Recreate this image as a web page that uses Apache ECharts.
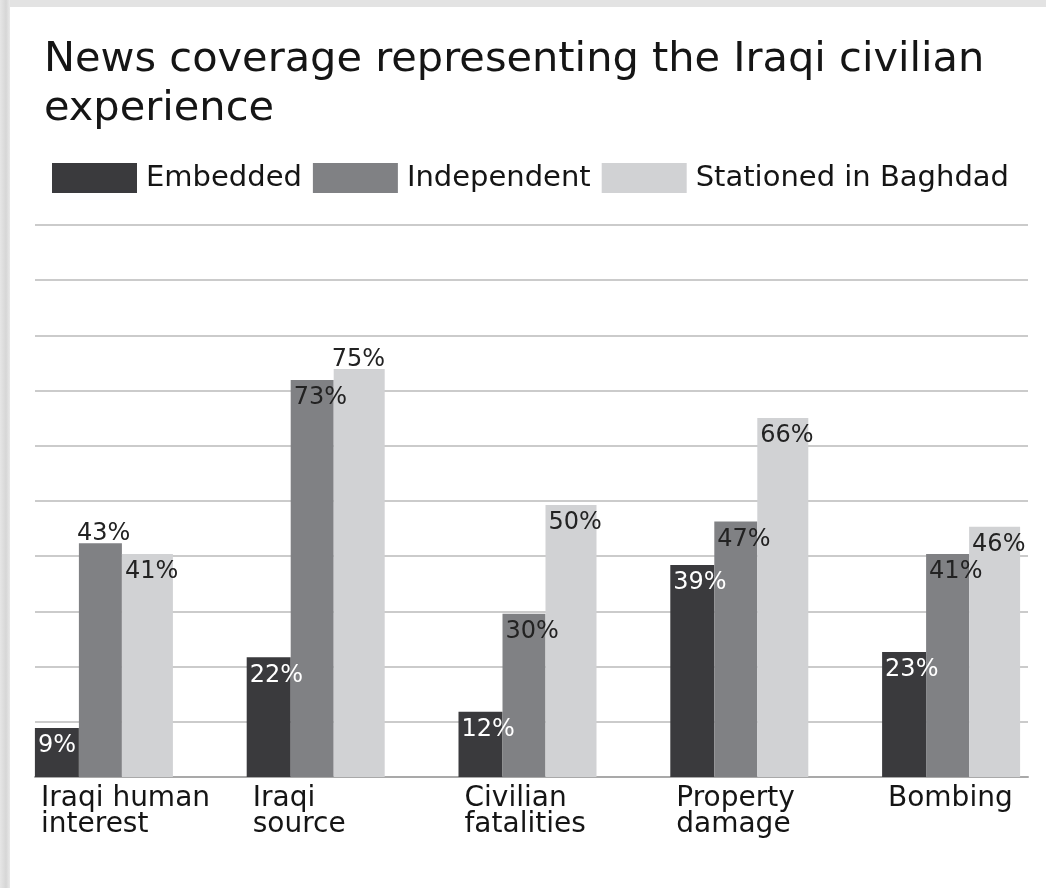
<!DOCTYPE html>
<html>
<head>
<meta charset="utf-8">
<script src="https://cdn.jsdelivr.net/npm/echarts@6/dist/echarts.min.js"></script>
<style>
html,body{margin:0;padding:0;background:#fff;}
#chart{width:1046px;height:888px;}
</style>
</head>
<body>
<div id="chart"></div>
<script>
const titleText = 'News coverage representing the Iraqi civilian\nexperience';
const categories = ['Iraqi human\ninterest', 'Iraqi\nsource', 'Civilian\nfatalities', 'Property\ndamage', 'Bombing'];
const seriesNames = ['Embedded', 'Independent', 'Stationed in Baghdad'];
const embedded = [9, 22, 12, 39, 23];
const independent = [43, 73, 30, 47, 41];
const stationed = [41, 75, 50, 66, 46];

const colors = ['#3a3a3d', '#808184', '#d1d2d4'];
const labelColors = ['#ffffff', '#222222', '#222222'];
const barWidths = [44, 43, 51];
// which bars carry their label above the bar (style choice)
const aboveLabel = [[], [0], [1]];
const FONT = '"DejaVu Sans", "Open Sans", sans-serif';

const chart = echarts.init(document.getElementById('chart'), null, {renderer: 'canvas'});

const gridTop = 225, gridBottom = 888 - 777;

function buildSeries(name, values, i) {
  return {
    name: name,
    type: 'bar',
    xAxisIndex: 1,
    yAxisIndex: 1,
    barWidth: barWidths[i],
    barGap: '0%',
    itemStyle: {color: colors[i]},
    label: {
      show: true,
      position: 'insideTopLeft',
      distance: 3,
      offset: [0, 3],
      formatter: '{c}%',
      color: labelColors[i],
      fontFamily: FONT,
      fontSize: 24
    },
    data: values.map((v, k) => {
      if (aboveLabel[i].indexOf(k) >= 0) {
        return {value: v, label: {position: [-2, -24], color: '#222222'}};
      }
      return v;
    })
  };
}

const option = {
  backgroundColor: '#ffffff',
  animation: false,
  graphic: [
    {type: 'rect', shape: {x: 0, y: 0, width: 1046, height: 7}, style: {fill: '#e3e3e3'}, z: 100},
    {type: 'rect', shape: {x: 0, y: 0, width: 10, height: 888},
     style: {fill: new echarts.graphic.LinearGradient(0, 0, 1, 0, [
       {offset: 0, color: '#e6e6e6'}, {offset: 0.6, color: '#d6d6d6'}, {offset: 1, color: '#e9e9e9'}])}, z: 100}
  ],
  title: {
    text: titleText,
    left: 44,
    top: 36,
    padding: 0,
    textStyle: {fontFamily: FONT, fontSize: 41.5, fontWeight: 'normal', color: '#151515', lineHeight: 49}
  },
  legend: {
    left: 52,
    top: 163,
    padding: 0,
    icon: 'rect',
    itemWidth: 85,
    itemHeight: 30,
    itemGap: 11,
    data: seriesNames,
    textStyle: {fontFamily: FONT, fontSize: 29, color: '#151515', padding: [2, 0, 0, 4]}
  },
  grid: [
    {left: 35, right: 18, top: gridTop, bottom: gridBottom, outerBoundsMode: 'none'},
    {left: -2, width: 1059, top: gridTop, bottom: gridBottom, outerBoundsMode: 'none'},
    {left: 41, width: 847, top: gridTop, bottom: gridBottom, outerBoundsMode: 'none'}
  ],
  xAxis: [
    {gridIndex: 0, type: 'category', data: categories, axisLine: {show: true, lineStyle: {color: '#a9a9a9', width: 2}},
     axisTick: {show: false}, axisLabel: {show: false}},
    {gridIndex: 1, type: 'category', data: categories, show: false},
    {gridIndex: 2, type: 'category', data: categories, boundaryGap: false,
     axisLine: {show: false}, axisTick: {show: false},
     axisLabel: {show: true, align: 'left', margin: 9, fontFamily: FONT, fontSize: 28, lineHeight: 26, color: '#151515', interval: 0}}
  ],
  yAxis: [
    {gridIndex: 0, type: 'value', min: 0, max: 100, interval: 10,
     axisLine: {show: false}, axisTick: {show: false}, axisLabel: {show: false},
     splitLine: {show: true, lineStyle: {color: '#cbcbcb', width: 2}}},
    {gridIndex: 1, type: 'value', min: 0, max: 101.5, show: false, splitLine: {show: false}},
    {gridIndex: 2, type: 'value', min: 0, max: 1, show: false, splitLine: {show: false}}
  ],
  series: [
    buildSeries(seriesNames[0], embedded, 0),
    buildSeries(seriesNames[1], independent, 1),
    buildSeries(seriesNames[2], stationed, 2)
  ]
};

chart.setOption(option);
</script>
</body>
</html>
